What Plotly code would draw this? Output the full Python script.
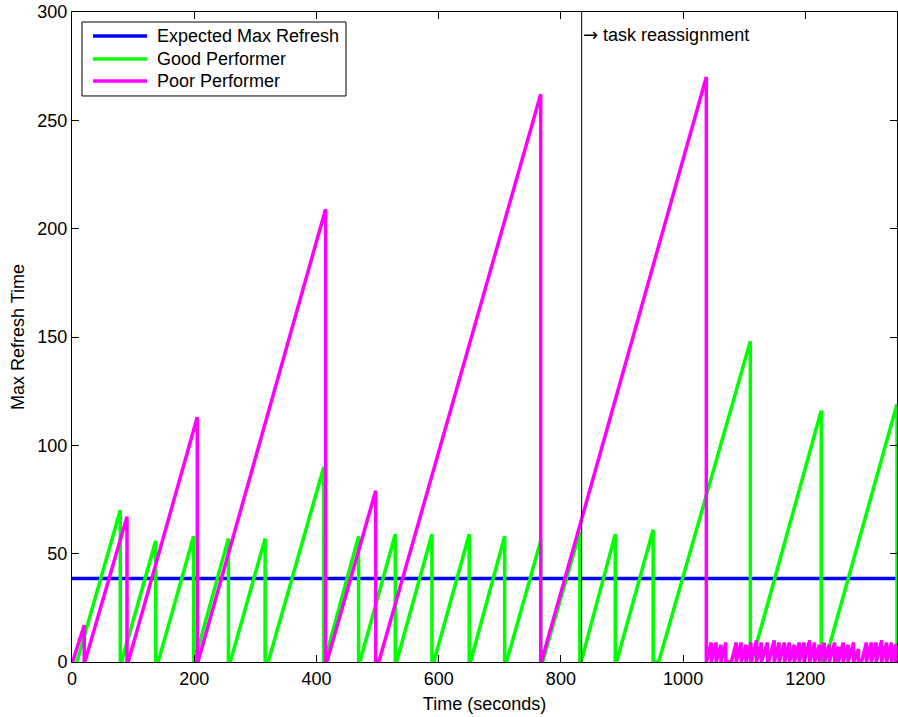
import plotly.graph_objects as go

# Expected maximum refresh time (constant)
expected_refresh = 38.5
time_range = [0, 1350]

# Good performer: each tooth = (start time, drop time, value at drop)
good_start = [8, 81, 141, 200, 259, 321, 413, 471, 531, 592, 652, 711, 770, 833, 891, 960, 1112, 1232]
good_drop = [79, 137, 199, 256, 316, 412, 469, 529, 589, 650, 708, 767, 831, 889, 951, 1110, 1226, 1350]
good_peak = [70, 56, 58, 57, 57, 90, 58, 59, 59, 59, 58, 56, 60, 59, 61, 148, 116, 119]

# Poor performer: long teeth before reassignment, short ones after
poor_start = [1, 21, 92, 206, 417, 502, 768,
              1038, 1046, 1054, 1062, 1079, 1087, 1095, 1103, 1111, 1120, 1128, 1140,
              1149, 1157, 1166, 1174, 1182, 1190, 1198, 1207, 1215, 1223, 1231, 1239,
              1248, 1254, 1262, 1270, 1279, 1292, 1300, 1308, 1316, 1325, 1333, 1341]
poor_drop = [20, 90, 205, 415, 497, 767, 1038,
             1046, 1054, 1062, 1070, 1087, 1095, 1103, 1111, 1120, 1128, 1138, 1149,
             1157, 1166, 1174, 1182, 1190, 1198, 1207, 1215, 1223, 1231, 1239, 1248,
             1254, 1262, 1270, 1279, 1287, 1300, 1308, 1316, 1325, 1333, 1341, 1348]
poor_peak = [17, 67, 113, 209, 79, 262, 270,
             9, 9, 8, 9, 9, 9, 8, 9, 10, 9, 9, 10,
             9, 9, 9, 8, 9, 9, 10, 9, 8, 9, 8, 9,
             7, 9, 8, 9, 6, 9, 9, 9, 10, 9, 9, 8]

reassign_time = 834

series_names = ["Expected Max Refresh", "Good Performer", "Poor Performer"]
series_colors = ["#0000ff", "#00ff00", "#ff00ff"]


def sawtooth(starts, drops, peaks):
    xs, ys = [], []
    for s, d, p in zip(starts, drops, peaks):
        xs += [s, d, d]
        ys += [0, p, 0]
    return xs, ys


gx, gy = sawtooth(good_start, good_drop, good_peak)
px, py = sawtooth(poor_start, poor_drop, poor_peak)

FONT = "Liberation Sans, Arial, Helvetica, sans-serif"
LW = 3.5

fig = go.Figure()
fig.add_trace(go.Scatter(x=time_range, y=[expected_refresh] * 2, mode="lines",
                         line=dict(color=series_colors[0], width=LW), name=series_names[0]))
fig.add_trace(go.Scatter(x=gx, y=gy, mode="lines",
                         line=dict(color=series_colors[1], width=LW), name=series_names[1]))
fig.add_trace(go.Scatter(x=px, y=py, mode="lines",
                         line=dict(color=series_colors[2], width=LW), name=series_names[2]))

# reassignment marker
fig.add_shape(type="line", x0=reassign_time, x1=reassign_time, y0=0, y1=300,
              xref="x", yref="y", line=dict(color="black", width=1))
fig.add_annotation(x=reassign_time, y=289.5, xref="x", yref="y",
                   text="<span style='font-family:DejaVu Sans'>\u2192</span> task reassignment",
                   showarrow=False, xanchor="left", yanchor="middle", xshift=-1,
                   font=dict(family=FONT, size=18, color="black"))

# boxed legend in the upper-left corner of the axes
box_x0, box_x1, box_y1, box_y0 = 0.0121, 0.3321, 0.9846, 0.8708
row_y = [0.9631, 0.9277, 0.8938]
fig.add_shape(type="rect", xref="paper", yref="paper", x0=box_x0, x1=box_x1, y0=box_y0, y1=box_y1,
              line=dict(color="black", width=1), fillcolor="white", layer="above")
for name, color, yy in zip(series_names, series_colors, row_y):
    fig.add_shape(type="line", xref="paper", yref="paper", x0=0.0255, x1=0.0909, y0=yy, y1=yy,
                  line=dict(color=color, width=LW), layer="above")
    fig.add_annotation(x=0.1003, y=yy, xref="paper", yref="paper", text=name, showarrow=False,
                       xanchor="left", yanchor="middle",
                       font=dict(family=FONT, size=18, color="black"))

axis_common = dict(showline=True, linecolor="black", linewidth=1, mirror="allticks",
                   ticks="inside", ticklen=7, tickcolor="black", showgrid=False,
                   zeroline=False, tickfont=dict(family=FONT, size=18, color="black"))

fig.update_layout(
    width=898, height=717,
    margin=dict(l=72, r=1, t=12, b=55),
    paper_bgcolor="white", plot_bgcolor="white",
    font=dict(family=FONT, size=18, color="black"),
    xaxis=dict(range=time_range, dtick=200, tick0=0,
               title=dict(text="Time (seconds)", font=dict(family=FONT, size=18), standoff=9),
               **axis_common),
    yaxis=dict(range=[0, 300], dtick=50, tick0=0,
               title=dict(text="Max Refresh Time", font=dict(family=FONT, size=18), standoff=8),
               **axis_common),
    showlegend=False,
)

fig.write_html("out.html")
